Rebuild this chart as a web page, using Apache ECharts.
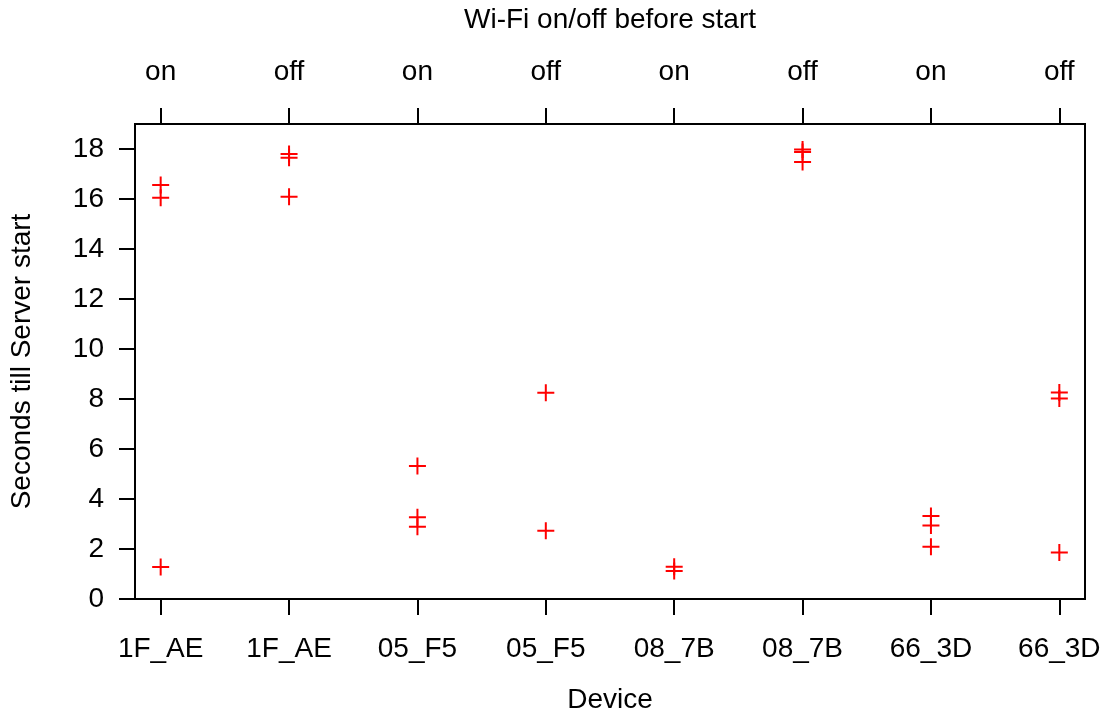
<!DOCTYPE html>
<html>
<head>
<meta charset="utf-8">
<title>Seconds till Server start</title>
<script src="https://cdn.jsdelivr.net/npm/echarts@6/dist/echarts.min.js"></script>
<style>
  html, body { margin: 0; padding: 0; background: #fff; }
  #chart { width: 1105px; height: 715px; }
</style>
</head>
<body>
<div id="chart"></div>
<script>
// device shown under each column, wifi state shown above it
const devices = ['1F_AE', '1F_AE', '05_F5', '05_F5', '08_7B', '08_7B', '66_3D', '66_3D'];
const wifi = ['on', 'off', 'on', 'off', 'on', 'off', 'on', 'off'];

const col0 = [16.56, 16.05, 1.28];
const col1 = [17.8, 17.65, 16.09];
const col2 = [5.32, 3.27, 2.89];
const col3 = [8.25, 2.73];
const col4 = [1.29, 1.12];
const col5 = [17.98, 17.88, 17.48];
const col6 = [3.32, 2.94, 2.09];
const col7 = [8.26, 8.02, 1.86];
const columns = [col0, col1, col2, col3, col4, col5, col6, col7];

const yTicks = [0, 2, 4, 6, 8, 10, 12, 14, 16, 18];
const xTicks = [0, 1, 2, 3, 4, 5, 6, 7];

let points = [];
columns.forEach(function (vals, i) {
  vals.forEach(function (v) { points.push([i, v]); });
});

const font = 'Liberation Sans, Arial, sans-serif';
const fs = 28;
const plus = 'path://M0,7.5H17V9.5H0Z M7.5,0H9.5V17H7.5Z';

let chart = echarts.init(document.getElementById('chart'));
chart.setOption({
  animation: false,
  textStyle: { fontFamily: font },
  grid: {
    left: 135, right: 20, top: 124, bottom: 116,
    outerBoundsMode: 'none',
    show: true, borderColor: '#000', borderWidth: 2
  },
  xAxis: [
    {
      type: 'value', position: 'bottom', min: -0.2, max: 7.2,
      name: 'Device', nameLocation: 'middle', nameGap: 87,
      nameTextStyle: { color: '#000', fontSize: fs, fontFamily: font },
      axisLine: { show: true, onZero: false, lineStyle: { color: '#000', width: 2 } },
      axisTick: { show: true, inside: false, length: 16, customValues: xTicks, lineStyle: { color: '#000', width: 2 } },
      axisLabel: {
        color: '#000', fontSize: fs, margin: 36, customValues: xTicks,
        formatter: function (v) { return devices[Math.round(v)]; }
      },
      splitLine: { show: false }
    },
    {
      type: 'value', position: 'top', min: -0.2, max: 7.2,
      name: 'Wi-Fi on/off before start', nameLocation: 'middle', nameGap: 90,
      nameTextStyle: { color: '#000', fontSize: fs, fontFamily: font },
      axisLine: { show: true, onZero: false, lineStyle: { color: '#000', width: 2 } },
      axisTick: { show: true, inside: false, length: 16, customValues: xTicks, lineStyle: { color: '#000', width: 2 } },
      axisLabel: {
        color: '#000', fontSize: fs, margin: 38, customValues: xTicks,
        formatter: function (v) { return wifi[Math.round(v)]; }
      },
      splitLine: { show: false }
    }
  ],
  yAxis: {
    type: 'value', min: 0, max: 19,
    name: 'Seconds till Server start', nameLocation: 'middle', nameGap: 99,
    nameTextStyle: { color: '#000', fontSize: fs, fontFamily: font },
    axisLine: { show: true, onZero: false, lineStyle: { color: '#000', width: 2 } },
    axisTick: { show: true, inside: false, length: 16, customValues: yTicks, lineStyle: { color: '#000', width: 2 } },
    axisLabel: { color: '#000', fontSize: fs, margin: 31, customValues: yTicks },
    splitLine: { show: false }
  },
  series: [
    {
      type: 'scatter',
      xAxisIndex: 0,
      symbol: plus,
      symbolSize: 17,
      itemStyle: { color: '#ff0000', opacity: 1 },
      data: points
    }
  ]
});
</script>
</body>
</html>
